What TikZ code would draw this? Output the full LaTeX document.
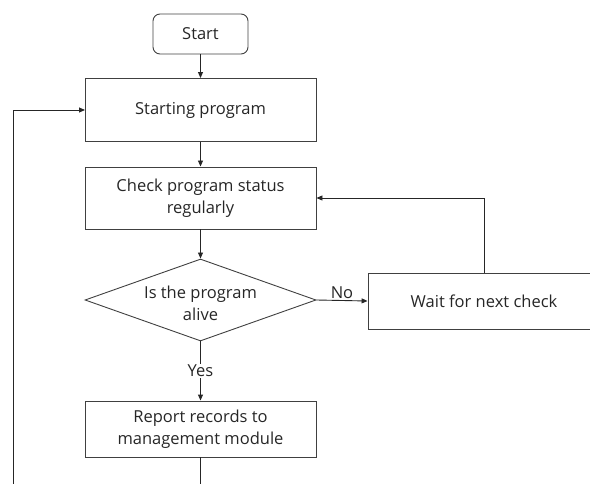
\documentclass[tikz,border=0pt]{standalone}
\usepackage{fontspec}
\setmainfont{Open Sans}
\usetikzlibrary{shapes.geometric,arrows.meta}
\begin{document}
\begin{tikzpicture}[x=1pt,y=-1pt,
  font=\fontsize{16.5}{22}\selectfont,
  every node/.style={text=black!85},
  box/.style={draw=black!75,line width=0.9pt,inner sep=0pt,align=center},
  flow/.style={draw=black!85,line width=0.9pt,-{Triangle[length=6pt,width=5pt]}},
  lbl/.style={fill=white,inner sep=1.5pt}]
  \clip (0,0) rectangle (590,484);

  % process boxes
  \node[box,rounded corners=7pt,minimum width=95pt,minimum height=40pt] (start) at (200.5,34) {Start};
  \node[box,minimum width=231pt,minimum height=63pt] (run) at (200.5,110) {Starting program};
  \node[box,minimum width=231pt,minimum height=62pt] (check) at (200.5,198) {Check program status\\regularly};
  \node[box,shape=diamond,minimum width=231pt,minimum height=82pt,aspect=2.8] (alive) at (200.5,300) {};
  \node[align=center] at (200.5,303) {Is the program\\alive};
  \node[box,minimum width=231pt,minimum height=56pt] (report) at (200.5,429) {Report records to\\management module};
  \node[box,minimum width=240pt,minimum height=56pt] (wait) at (488,301) {};
  \node at (484,301) {Wait for next check};

  % connectors
  \draw[flow] (start) -- (run);
  \draw[flow] (run) -- (check);
  \draw[flow] (check) -- (alive);
  \draw[flow] (alive.south) -- node[lbl] {Yes} (report);
  \draw[flow] (alive.east) -- node[above=-2pt] {No} (wait.west);
  \draw[flow] (wait.north -| 484,0) |- (check.east);
  \coordinate (loop) at (13,520);
  \draw[flow] (report.south) |- (loop) |- (run.west -| 85,110);
\end{tikzpicture}
\end{document}
